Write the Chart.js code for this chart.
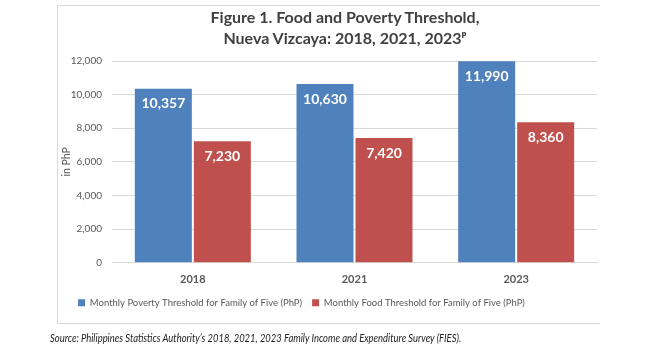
<!DOCTYPE html>
<html>
<head>
<meta charset="utf-8">
<script src="https://cdn.jsdelivr.net/npm/chart.js@4"></script>
<style>
  html, body { margin: 0; padding: 0; background: #fff; }
  #wrap { position: relative; width: 653px; height: 359px; }
  #c { position: absolute; left: 0; top: 0; }
  #title { position: absolute; left: 145px; width: 400px; top: 6px; text-align: center; font-family: Lato, "Open Sans", sans-serif; font-weight: bold; font-size: 16px; line-height: 21px; color: #404040; }
  #src { position: absolute; left: 50px; top: 331px; font-family: Lato, "Open Sans", sans-serif; font-style: italic; font-size: 11.5px; color: #222; white-space: nowrap; transform-origin: 0 0; transform: scaleX(0.82); }
</style>
</head>
<body>
<div id="wrap">
  <canvas id="c" width="653" height="359"></canvas>
  <div id="title"></div>
  <div id="src">Source: Philippines Statistics Authority’s 2018, 2021, 2023 Family Income and Expenditure Survey (FIES).</div>
</div>
<script>
const categories = ["2018", "2021", "2023"];
const povertyThreshold = [10357, 10630, 11990];
const foodThreshold = [7230, 7420, 8360];
const seriesNames = ["Monthly Poverty Threshold for Family of Five (PhP)", "Monthly Food Threshold for Family of Five (PhP)"];
const titleLines = ["Figure 1. Food and Poverty Threshold,", "Nueva Vizcaya: 2018, 2021, 2023ᵖ"];

document.getElementById('title').innerHTML = titleLines.join('<br>');

const FONT = 'Lato, "Open Sans", sans-serif';
const GRAY = '#595959';

const boxPlugin = {
  id: 'box',
  afterLayout(chart) {
    // shift legend so it is centred like the reference
    if (chart.legend) { chart.legend.left -= 27; chart.legend.right -= 27; }
  },
  beforeDraw(chart) {
    const ctx = chart.ctx;
    ctx.save();
    ctx.strokeStyle = '#d9d9d9';
    ctx.lineWidth = 1;
    ctx.beginPath();
    ctx.moveTo(57.5, 323.5); ctx.lineTo(57.5, 5.5); ctx.lineTo(600, 5.5);
    ctx.moveTo(57.5, 323.5); ctx.lineTo(600, 323.5);
    ctx.stroke();
    ctx.restore();
  }
};

const labelPlugin = {
  id: 'barLabels',
  afterDatasetsDraw(chart) {
    const ctx = chart.ctx;
    ctx.save();
    ctx.fillStyle = '#ffffff';
    ctx.font = 'bold 14px ' + FONT;
    ctx.textAlign = 'center';
    ctx.textBaseline = 'middle';
    chart.data.datasets.forEach((ds, i) => {
      chart.getDatasetMeta(i).data.forEach((bar, j) => {
        ctx.fillText(ds.data[j].toLocaleString('en-US'), bar.x, bar.y + 15);
      });
    });
    ctx.restore();
  }
};

new Chart(document.getElementById('c'), {
  type: 'bar',
  data: {
    labels: categories,
    datasets: [
      { label: seriesNames[0], data: povertyThreshold, backgroundColor: '#4f81bd', categoryPercentage: 0.73, barPercentage: 0.966 },
      { label: seriesNames[1], data: foodThreshold, backgroundColor: '#c0504d', categoryPercentage: 0.73, barPercentage: 0.966 }
    ]
  },
  options: {
    responsive: false,
    animation: false,
    layout: { padding: { left: 60, right: 56, top: 61, bottom: 41.5 } },
    plugins: {
      title: { display: false },
      legend: {
        position: 'bottom',
        labels: {
          color: GRAY,
          font: { family: FONT, size: 9.5 },
          boxWidth: 7, boxHeight: 7,
          padding: 10
        }
      },
      tooltip: { enabled: false }
    },
    scales: {
      x: {
        grid: { display: false },
        border: { color: '#d9d9d9' },
        ticks: { color: GRAY, font: { family: FONT, size: 11, weight: 'bold' }, padding: 2 }
      },
      y: {
        min: 0, max: 12000,
        afterFit(scale) { scale.width = 52; },
        grid: { color: '#d9d9d9', drawTicks: false },
        border: { display: false },
        ticks: { stepSize: 2000, color: GRAY, font: { family: FONT, size: 10 }, padding: 10,
          callback: v => v.toLocaleString('en-US') },
        title: { display: true, text: 'in PhP', color: GRAY, font: { family: FONT, size: 10.5 }, padding: 0 }
      }
    }
  },
  plugins: [boxPlugin, labelPlugin]
});
</script>
</body>
</html>
